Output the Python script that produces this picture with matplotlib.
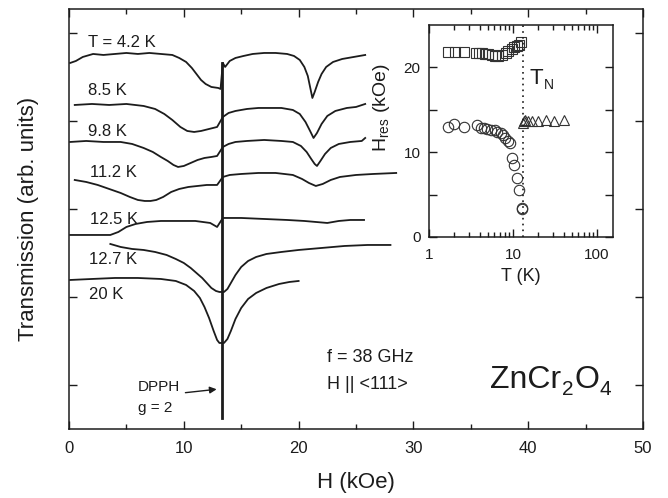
import matplotlib
matplotlib.use("Agg")
import matplotlib.pyplot as plt
from matplotlib.ticker import FixedLocator, NullFormatter, LogLocator, FuncFormatter
import numpy as np

plt.rcParams['font.family'] = ['Liberation Sans', 'DejaVu Sans']
plt.rcParams['mathtext.fontset'] = 'custom'
plt.rcParams['mathtext.rm'] = 'Liberation Sans'
plt.rcParams['mathtext.it'] = 'Liberation Sans:italic'

INK = '#1c1c1c'

# ---- main panel: transmission spectra (H in kOe, arb. units) ----
h_42 = [0.1, 0.6, 1.2, 2.1, 3, 4, 5, 6, 7, 8, 9, 9.6, 10.2, 10.7, 11.1, 11.5, 11.9, 12.4, 13.0, 13.2,
        13.4, 13.6, 14.0, 14.5, 15.2, 16, 17, 18, 19, 19.6, 20.1, 20.5, 20.8, 21.0, 21.2, 21.4, 21.7,
        22.0, 22.4, 23.0, 23.8, 24.8, 25.8]
y_42 = [366, 368, 372, 375, 374, 375, 376, 375, 376, 375, 374, 371, 367, 361, 355, 349, 345, 342, 341, 340,
        366, 362, 368, 371, 373, 375, 376, 376, 375, 373, 369, 362, 353, 342, 331, 337, 347,
        355, 362, 367, 370, 372, 374]

h_85 = [0.5, 2, 3.5, 5, 6.5, 7.5, 8.3, 9.0, 9.7, 10.3, 10.9, 11.5, 12.2, 12.9,
        13.4, 13.9, 14.5, 15.5, 16.5, 17.5, 18.5, 19.5, 20.1, 20.6, 21.0, 21.3, 21.6, 22.0, 22.5,
        23.2, 24.2, 25.0, 25.8]
y_85 = [324, 325, 324, 325, 323, 320, 315, 309, 302, 298, 297, 298, 300, 302,
        312, 316, 318, 320, 321, 321, 321, 319, 315, 307, 298, 291, 296, 305, 313,
        318, 321, 322, 325]

h_98 = [0.1, 1.5, 3, 4.5, 5.5, 6.5, 7.3, 8.0, 8.6, 9.1, 9.5, 10.0, 10.6, 11.2, 11.8, 12.4, 12.9,
        13.4, 13.9, 14.5, 15.5, 17, 18.5, 19.5, 20.2, 20.7, 21.1, 21.4, 21.6, 21.9, 22.3, 22.8,
        23.5, 24.5, 25.5, 25.8]
y_98 = [287, 288, 287, 287, 285, 281, 277, 272, 268, 264, 262, 263, 266, 269, 271, 272, 273,
        282, 285, 287, 288, 289, 288, 287, 283, 277, 270, 265, 263, 268, 275, 281,
        285, 287, 288, 291]

h_112 = [0.5, 1.5, 2.5, 3.5, 4.5, 5.3, 6.0, 6.6, 7.1, 7.6, 8.2, 8.9, 9.6, 10.4, 11.2, 12.0, 12.9,
         13.4, 14, 15, 16.5, 18, 19.5, 20.3, 20.9, 21.5, 22.1, 22.8, 23.6, 25, 26.5, 28.5]
y_112 = [249, 247, 244, 240, 236, 232, 229, 228, 228, 229, 232, 237, 240, 242, 243, 244, 244,
         252, 254, 255, 256, 256, 254, 250, 246, 243, 245, 249, 252, 254, 255, 256]

h_125 = [0.1, 2, 3.6, 4.3, 5.0, 5.8, 6.8, 8, 9.5, 11, 12.3, 12.9,
         13.4, 15, 17, 19, 20.5, 21.5, 22.5, 23.5, 24.5, 25.7]
y_125 = [194, 194, 194, 197, 202, 205, 207, 208, 208, 208, 206, 202,
         211, 211, 210, 209, 208, 207, 206, 208, 209, 209]

h_127 = [3.6, 4.5, 5.5, 6.5, 7.5, 8.5, 9.3, 10.0, 10.6, 11.1, 11.6, 12.0, 12.4, 12.8, 13.1,
         13.5, 13.8, 14.1, 14.5, 15.0, 15.6, 16.3, 17.2, 18.5, 20, 22, 24, 26, 28]
y_127 = [185, 182, 180, 179, 177, 174, 170, 166, 161, 156, 151, 146, 141, 138, 137,
         137, 140, 146, 154, 162, 168, 172, 175, 177, 179, 181, 183, 184, 184]

h_20 = [0.1, 2, 4, 6, 8, 9.3, 10.2, 10.9, 11.4, 11.8, 12.2, 12.6, 12.9, 13.1,
        13.5, 13.8, 14.1, 14.5, 15.0, 15.6, 16.3, 17.2, 18.3, 19.2, 20.0]
y_20 = [149, 150, 151, 151, 150, 148, 144, 138, 131, 122, 111, 98, 89, 86,
        86, 90, 98, 110, 121, 130, 136, 141, 145, 147, 148]

curve_h = [h_42, h_85, h_98, h_112, h_125, h_127, h_20]
curve_y = [y_42, y_85, y_98, y_112, y_125, y_127, y_20]
curve_labels = ['T = 4.2 K', '8.5 K', '9.8 K', '11.2 K', '12.5 K', '12.7 K', '20 K']
label_h = [1.65, 1.65, 1.65, 1.83, 1.83, 1.74, 1.74]
label_y = [386, 338, 297, 256, 209, 169, 134]

dpph_h = [13.3, 13.3]
dpph_y = [366, 11]

# ---- inset: resonance fields vs temperature ----
sq_t = [1.68, 2.04, 2.6, 3.6, 3.9, 4.3, 4.6, 5.0, 5.6, 6.1, 6.6, 7.4, 8.3, 8.7, 9.7, 10.3, 11.1, 11.8, 12.3]
sq_h = [21.8, 21.8, 21.8, 21.7, 21.7, 21.7, 21.6, 21.6, 21.5, 21.4, 21.4, 21.5, 21.7, 21.9, 22.2, 22.4, 22.5, 22.7, 23.0]

ci_t = [1.68, 1.98, 2.6, 3.7, 4.2, 4.5, 4.9, 5.5, 6.1, 6.5, 7.2, 7.6, 8.0, 8.7, 9.2, 9.7, 10.3, 11.1, 11.8, 12.7, 12.9]
ci_h = [13.0, 13.3, 13.0, 13.2, 12.9, 12.8, 12.7, 12.6, 12.6, 12.4, 12.3, 12.0, 11.7, 11.3, 11.1, 9.3, 8.5, 6.9, 5.5, 3.4, 3.3]

tr_t = [13.0, 13.5, 14.0, 15.0, 17.0, 20.0, 25.0, 31.0, 40.0]
tr_h = [13.5, 13.7, 13.8, 13.7, 13.7, 13.7, 13.8, 13.7, 13.8]

t_neel = 13.2


def chem_text(axis, x, y, pieces, size, sub_size, drop):
    # chain text pieces; odd ones are dropped subscripts
    prev = axis.text(x, y, pieces[0], fontsize=size, va='baseline', color=INK)
    for i, p in enumerate(pieces[1:], start=1):
        if i % 2:
            prev = axis.annotate(p, xy=(1, 0), xycoords=prev, xytext=(0.5, -drop),
                                 textcoords='offset points', fontsize=sub_size,
                                 va='bottom', color=INK)
        else:
            prev = axis.annotate(p, xy=(1, 0), xycoords=prev, xytext=(0.5, drop),
                                 textcoords='offset points', fontsize=size,
                                 va='bottom', color=INK)
    return prev


fig = plt.figure(figsize=(6.68, 4.98), dpi=100)
ax = fig.add_axes([0.1033, 0.1386, 0.8593, 0.8434])

for hh, yy in zip(curve_h, curve_y):
    ax.plot(hh, yy, color=INK, lw=1.3)
ax.plot(dpph_h, dpph_y, color=INK, lw=2.0)

for lab, lh, ly in zip(curve_labels, label_h, label_y):
    ax.text(lh, ly, lab, fontsize=12, va='center', ha='left', color=INK)

ax.text(6.0, 42, 'DPPH', fontsize=11, va='center', color=INK)
ax.text(6.0, 21, 'g = 2', fontsize=11, va='center', color=INK)
ax.annotate('', xy=(13.1, 40), xytext=(9.9, 36),
            arrowprops=dict(arrowstyle='-|>', lw=1.0, color=INK, mutation_scale=10))
ax.text(22.5, 71, 'f = 38 GHz', fontsize=13, va='center', color=INK)
ax.text(22.5, 44, 'H || <111>', fontsize=13, va='center', color=INK)
chem_text(ax, 36.7, 41, ['ZnCr', '2', 'O', '4'], 23, 15, 3)

ax.set_xlim(0, 50)
ax.set_ylim(0, 420)
ax.set_xticks(np.arange(0, 51, 10))
ax.xaxis.set_minor_locator(FixedLocator(np.arange(5, 50, 10)))
ax.set_yticks(np.arange(44, 420, 88))
ax.yaxis.set_major_formatter(NullFormatter())
ax.tick_params(which='both', direction='in', top=True, right=True, colors=INK, width=1.0)
ax.tick_params(which='major', length=6, labelsize=12, pad=9)
ax.tick_params(which='minor', length=3.5)
for s in ax.spines.values():
    s.set_linewidth(1.1)
    s.set_color(INK)
ax.set_xlabel('H (kOe)', fontsize=16, labelpad=11, color=INK)
ax.set_ylabel('Transmission (arb. units)', fontsize=16, color=INK)
ax.yaxis.set_label_coords(-0.052, 0.5)

# inset
ins = fig.add_axes([0.6422, 0.5241, 0.2754, 0.4257])
ins.set_xscale('log')
ins.plot(sq_t, sq_h, 's', ms=6.5, mfc='none', mec='#333333', mew=0.8)
ins.plot(ci_t, ci_h, 'o', ms=7.5, mfc='none', mec='#333333', mew=0.8)
ins.plot(tr_t, tr_h, '^', ms=7.5, mfc='none', mec='#333333', mew=0.8)
ins.axvline(t_neel, color=INK, lw=1.2, ls=(0, (1, 2.5)))
chem_text(ins, 15.9, 18.0, ['T', 'N'], 16, 10, 2)

ins.set_xlim(1, 155)
ins.set_ylim(0, 25)
ins.xaxis.set_major_locator(FixedLocator([1, 10, 100]))
ins.xaxis.set_major_formatter(FuncFormatter(lambda v, p: '%d' % v))
ins.xaxis.set_minor_locator(LogLocator(base=10, subs=np.arange(2, 10)))
ins.xaxis.set_minor_formatter(NullFormatter())
ins.yaxis.set_major_locator(FixedLocator([0, 5, 10, 15, 20]))
ins.yaxis.set_major_formatter(FuncFormatter(lambda v, p: '%d' % v if v % 10 == 0 else ''))
ins.tick_params(which='both', direction='in', top=True, right=True, colors=INK, width=1.0)
ins.tick_params(which='major', length=6, labelsize=11)
ins.tick_params(axis='x', which='major', pad=8)
ins.tick_params(axis='y', which='major', pad=6)
ins.tick_params(which='minor', length=3.5)
for s in ins.spines.values():
    s.set_linewidth(1.1)
    s.set_color(INK)
ins.set_xlabel('T (K)', fontsize=13, labelpad=4, color=INK)
ins.set_ylabel(r'H$_{\rm res}$ (kOe)', fontsize=14, color=INK)
ins.yaxis.set_label_coords(-0.2, 0.61)

fig.savefig('out.png', dpi=100)
